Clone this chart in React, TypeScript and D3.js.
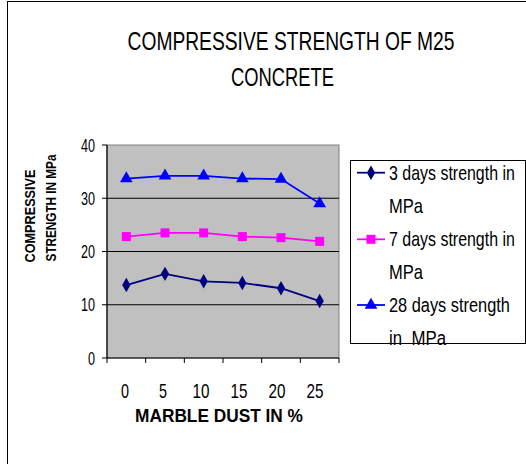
import React, { useLayoutEffect, useRef, useState } from "react";
import * as d3 from "d3";

const dustPct = ["0", "5", "10", "15", "20", "25"];
const days3 = [13.7, 15.8, 14.4, 14.1, 13.1, 10.7];
const days7 = [22.8, 23.5, 23.5, 22.8, 22.6, 21.9];
const days28 = [33.7, 34.2, 34.2, 33.7, 33.6, 29.0];
const yTicks = [0, 10, 20, 30, 40];

const series = [
  { name: ["3 days strength in", "MPa"], values: days3, color: "#000080", marker: "diamond" },
  { name: ["7 days strength in", "MPa"], values: days7, color: "#ff00ff", marker: "square" },
  { name: ["28 days strength", "in  MPa"], values: days28, color: "#0000ff", marker: "triangle" },
];

const FONT = "'Liberation Sans', Arial, sans-serif";

// text squeezed horizontally to a given width (the original uses a narrow font)
function FitText(props: {
  x: number; y: number; width: number; size: number;
  anchor?: string; rotate?: number; bold?: boolean; children: string;
}) {
  const ref = useRef<SVGTextElement>(null);
  const [k, setK] = useState(1);
  useLayoutEffect(() => {
    const n = ref.current ? ref.current.getComputedTextLength() : 0;
    if (n > 0) setK(props.width / n);
  }, [props.width, props.children, props.size]);
  return (
    <text
      ref={ref}
      transform={`translate(${props.x},${props.y}) rotate(${props.rotate || 0}) scale(${k},1)`}
      fontSize={props.size}
      fontWeight={props.bold ? "bold" : "normal"}
      textAnchor={props.anchor || "start"}
      style={{ whiteSpace: "pre" }}
    >
      {props.children}
    </text>
  );
}

function Marker({ type, x, y, color }: { type: string; x: number; y: number; color: string }) {
  if (type === "diamond") {
    const s = d3.symbol(d3.symbolDiamond, 60)();
    return <path d={s || ""} transform={`translate(${x},${y})`} fill={color} />;
  }
  if (type === "square") {
    return <rect x={x - 4.5} y={y - 4.5} width={9} height={9} fill={color} />;
  }
  const t = d3.symbol(d3.symbolTriangle, 70)();
  return <path d={t || ""} transform={`translate(${x},${y})`} fill={color} />;
}

export default function App() {
  const left = 107, right = 339, top = 145, bottom = 358;
  const x = d3.scaleBand<string>().domain(dustPct).range([left, right]);
  const y = d3.scaleLinear().domain([0, 40]).range([bottom, top]);
  const cx = (c: string) => (x(c) ?? 0) + x.bandwidth() / 2;
  const line = d3.line<number>().x((_, i) => cx(dustPct[i])).y((d) => y(d));
  const bounds = [...dustPct.map((c) => x(c) ?? 0), right];

  const legendRows = [172.7, 239.3, 305];

  return (
    <svg
      width={526}
      height={464}
      style={{ position: "absolute", left: 0, top: 0, background: "#fff" }}
      fontFamily={FONT}
    >
      <rect x={7.5} y={1.5} width={600} height={600} fill="none" stroke="#000" strokeWidth={1} />

      <FitText x={291} y={50} size={25} width={327} anchor="middle">COMPRESSIVE STRENGTH OF M25</FitText>
      <FitText x={282.5} y={86} size={25} width={103} anchor="middle">CONCRETE</FitText>

      <rect x={left} y={top} width={right - left} height={bottom - top} fill="#c0c0c0" stroke="#808080" strokeWidth={1} />
      {yTicks.filter((t) => t > 0 && t < 40).map((t) => (
        <line key={t} x1={left} x2={right} y1={y(t)} y2={y(t)} stroke="#000" strokeWidth={1.2} />
      ))}
      <line x1={left} x2={left} y1={top} y2={bottom} stroke="#000" strokeWidth={1.2} />
      <line x1={left} x2={right} y1={bottom} y2={bottom} stroke="#000" strokeWidth={1.2} />
      {yTicks.map((t) => (
        <g key={t}>
          <line x1={left - 5} x2={left} y1={y(t)} y2={y(t)} stroke="#000" />
          <FitText x={95} y={y(t) + 6.5} size={18.5} width={t === 0 ? 7 : 14} anchor="end">{String(t)}</FitText>
        </g>
      ))}
      {bounds.map((b, i) => (
        <line key={i} x1={b} x2={b} y1={bottom} y2={bottom + 5} stroke="#000" />
      ))}
      {dustPct.map((c, i) => (
        <FitText key={c} x={125 + i * 38} y={398} size={20} width={c.length === 1 ? 8 : 17} anchor="middle">{c}</FitText>
      ))}

      {series.map((s) => (
        <g key={s.name[0]}>
          <path d={line(s.values) || ""} fill="none" stroke={s.color} strokeWidth={1.8} />
          {s.values.map((v, i) => (
            <Marker key={i} type={s.marker} x={cx(dustPct[i])} y={y(v)} color={s.color} />
          ))}
        </g>
      ))}

      <FitText x={219} y={422} size={18} width={168} anchor="middle" bold>MARBLE DUST IN %</FitText>
      <FitText x={35} y={216} size={14} width={93} anchor="middle" rotate={-90} bold>COMPRESSIVE</FitText>
      <FitText x={56} y={208} size={14} width={107} anchor="middle" rotate={-90} bold>STRENGTH IN MPa</FitText>

      <rect x={350.5} y={160.5} width={175} height={183} fill="#fff" stroke="#000" strokeWidth={1} />
      {series.map((s, i) => {
        const ly = legendRows[i];
        const w1 = [126, 126, 121][i];
        const w2 = [34, 34, 57][i];
        return (
          <g key={s.name[0]}>
            <line x1={357} x2={385} y1={ly} y2={ly} stroke={s.color} strokeWidth={1.8} />
            <Marker type={s.marker} x={371} y={ly} color={s.color} />
            <FitText x={389} y={ly + 7} size={20} width={w1}>{s.name[0]}</FitText>
            <FitText x={389} y={ly + 40} size={20} width={w2}>{s.name[1]}</FitText>
          </g>
        );
      })}
    </svg>
  );
}
